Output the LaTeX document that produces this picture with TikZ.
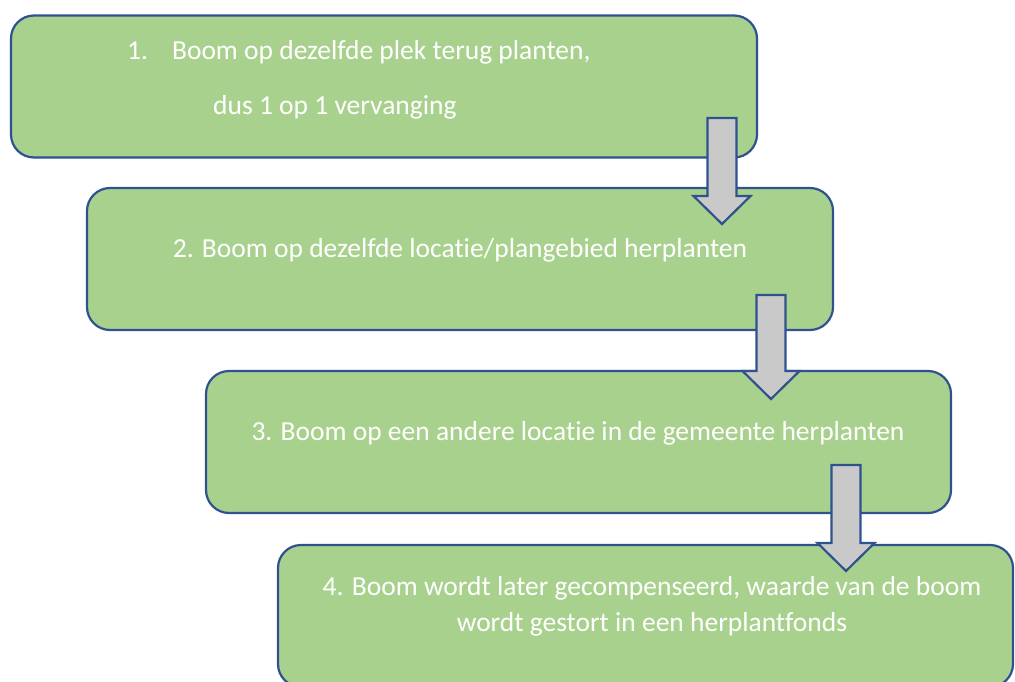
\documentclass[tikz,border=0pt]{standalone}
\usepackage{fontspec}
\setmainfont{Carlito}[Ligatures=NoCommon]
\definecolor{boxgreen}{HTML}{A9D18E}
\definecolor{boxblue}{HTML}{2F528F}
\definecolor{arrowgray}{HTML}{C9C9C9}
\tikzset{
  stepbox/.style={draw=boxblue, line width=2.2pt, fill=boxgreen, rounded corners=23pt,
    minimum width=#1, minimum height=142pt, inner sep=0pt},
  steptext/.style={text=white, font=\fontsize{27.5}{36}\selectfont, inner sep=0pt, align=center},
  blockarrow/.style={draw=boxblue, line width=2.2pt, fill=arrowgray, line join=miter}
}
% block arrow: x centre, top of shaft, tip
\newcommand{\blockarrow}[3]{%
  \draw[blockarrow] (#1-14.5,#2) -- (#1+14.5,#2) -- (#1+14.5,#3-28) -- (#1+28.5,#3-28)
    -- (#1,#3) -- (#1-28.5,#3-28) -- (#1-14.5,#3-28) -- cycle;}
\begin{document}
\begin{tikzpicture}[x=1pt, y=-1pt]
		\clip (0,0) rectangle (1015,682);
		\useasboundingbox (0,0) rectangle (1015,682);
		
		\node [stepbox=746pt] (box1) at (384,86.5) {};
		\node [stepbox=746pt] (box2) at (460,259) {};
		\node [stepbox=745pt] (box3) at (578.5,442) {};
		\node [stepbox=735pt] (box4) at (645.5,616) {};
		
		\node [steptext, anchor=west] (t1a) at (127,52) {1.\hspace{24pt}Boom op dezelfde plek terug planten,};
		\node [steptext, anchor=west] (t1b) at (213,107) {dus 1 op 1 vervanging};
		\node [steptext] (t2) at (460,250) {2. Boom op dezelfde locatie/plangebied herplanten};
		\node [steptext] (t3) at (578,433) {3. Boom op een andere locatie in de gemeente herplanten};
		\node [steptext] (t4) at (652,606) {4. Boom wordt later gecompenseerd, waarde van de boom\\wordt gestort in een herplantfonds};
		
		\blockarrow{722}{118}{224}
		\blockarrow{771}{295}{399}
		\blockarrow{846}{465}{571}
\end{tikzpicture}
\end{document}
